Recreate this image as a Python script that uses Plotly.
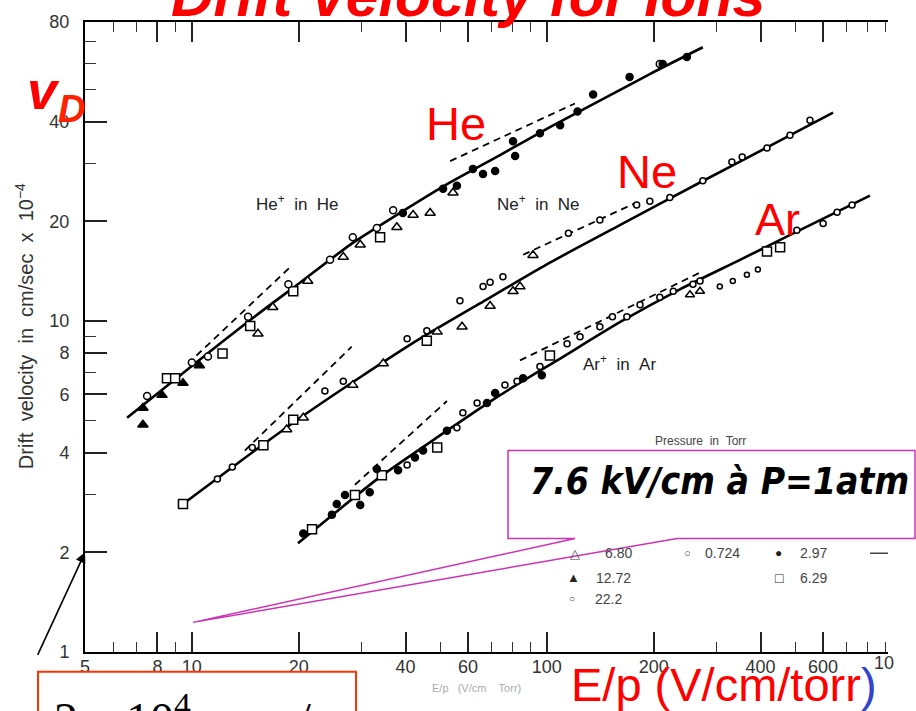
import math
import plotly.graph_objects as go

# ---------------- data (E/p in V/cm/torr, drift velocity in cm/s x 1e-4) ----------------
# fitted curves
he_curve_x = [6.57, 9.88, 14.6, 20.2, 27.9, 38.6, 53.4, 73.8, 102, 141, 195, 275]
he_curve_y = [5.10, 7.24, 10.07, 13.07, 16.98, 21.2, 26.2, 31.7, 38.5, 46.3, 55.7, 67.1]
ne_curve_x = [9.44, 13.7, 20.2, 29.8, 43.9, 64.8, 102, 161, 270, 425, 640]
ne_curve_y = [2.80, 3.77, 5.10, 6.76, 8.84, 11.3, 15.0, 19.5, 26.2, 33.8, 42.6]
ar_curve_x = [19.9, 33.9, 50, 73.8, 109, 161, 237, 350, 516, 813]
ar_curve_y = [2.13, 3.38, 4.51, 5.97, 7.70, 9.93, 12.46, 15.3, 18.8, 23.9]

# dashed asymptotes (low field / high field)
he_low_x, he_low_y = [10.3, 19.0], [7.86, 14.6]
he_high_x, he_high_y = [53.4, 120], [30.4, 45.4]
ne_low_x, ne_low_y = [14.1, 28.2], [4.06, 8.36]
ne_high_x, ne_high_y = [85.7, 179], [15.85, 22.8]
ar_low_x, ar_low_y = [28.8, 52.3], [3.20, 5.73]
ar_high_x, ar_high_y = [84, 270], [7.60, 14.0]

# He+ in He measurements by pressure (torr)
he_p0724_x = [7.48, 10.0, 11.1, 14.4, 18.7, 24.5, 28.4, 33.2, 36.9, 208]
he_p0724_y = [5.93, 7.49, 7.81, 10.3, 12.9, 15.3, 17.9, 19.1, 21.6, 59.7]
he_p297_x = [39.3, 51.0, 55.8, 61.9, 66.1, 71.5, 81.4, 80.3, 95.6, 109, 122, 135, 171, 212, 248]
he_p297_y = [21.2, 25.1, 25.6, 28.8, 27.8, 28.4, 31.5, 34.9, 36.9, 39.0, 42.9, 48.3, 54.6, 59.7, 62.7]
he_p629_x = [8.51, 8.97, 12.2, 14.6, 19.3, 33.9]
he_p629_y = [6.71, 6.71, 7.97, 9.66, 12.3, 17.9]
he_p680_x = [15.35, 16.9, 21.2, 26.7, 29.8, 37.8, 42.0, 46.9, 54.4]
he_p680_y = [9.15, 11.0, 13.2, 15.6, 17.0, 19.2, 20.9, 21.2, 24.4]
he_p1272_x = [7.28, 7.28, 8.24, 9.44, 10.5]
he_p1272_y = [4.86, 5.46, 5.97, 6.49, 7.34]

# Ne+ in Ne
ne_p629_x = [9.44, 15.9, 19.3, 45.9]
ne_p629_y = [2.80, 4.21, 5.03, 8.72]
ne_p0724_x = [11.8, 13.0, 14.8, 23.7, 26.7, 40.4, 45.9, 56.9, 66.1, 69.2, 75.2, 115, 141, 179, 195, 222, 275, 332, 355, 417, 484, 551]
ne_p0724_y = [3.33, 3.62, 4.15, 6.14, 6.58, 8.84, 9.34, 11.5, 12.7, 13.1, 13.6, 18.4, 20.2, 22.4, 23.0, 23.6, 26.5, 30.2, 31.3, 33.3, 36.4, 40.4]
ne_p680_x = [18.5, 20.6, 28.4, 34.6, 49.1, 57.7, 69.2, 80.3, 84.0, 91.4]
ne_p680_y = [4.70, 5.10, 6.40, 7.44, 9.27, 9.60, 11.1, 12.3, 12.7, 15.8]

# Ar+ in Ar
ar_p297_x = [20.6, 24.8, 25.6, 27.0, 29.8, 31.7, 33.2, 38.1, 42.5, 44.8, 52.3, 67.8, 71.5, 85.7, 96.8]
ar_p297_y = [2.28, 2.60, 2.80, 2.98, 2.78, 3.04, 3.57, 3.54, 3.87, 4.06, 4.66, 5.65, 6.06, 6.71, 6.85]
ar_p629_x = [21.8, 28.8, 34.3, 49.1, 102, 417, 454]
ar_p629_y = [2.35, 2.98, 3.42, 4.15, 7.86, 16.2, 16.7]
ar_p0724_x = [40.4, 55.8, 58.0, 63.6, 76.2, 82.4, 95.6, 114, 124, 141, 153, 168, 183, 208, 227, 258, 270, 506, 600, 657, 724]
ar_p0724_y = [3.67, 4.76, 5.28, 5.65, 6.40, 6.58, 7.29, 8.54, 8.96, 9.60, 10.3, 10.3, 11.2, 11.8, 12.3, 12.9, 13.2, 18.8, 19.7, 21.3, 22.4]
ar_p222_x = [307, 334, 366, 393]
ar_p222_y = [12.7, 13.2, 13.8, 14.3]
ar_p680_x = [253, 270]
ar_p680_y = [12.0, 12.3]

# axis ticks
x_major = [5, 8, 10, 20, 40, 60, 100, 200, 400, 600]
x_minor = [6, 7, 9, 30, 50, 70, 80, 90, 300, 500, 700, 800, 900]
y_major = [1, 2, 4, 6, 8, 10, 20, 40, 80]
y_minor = [3, 5, 7, 9, 30, 50, 60, 70]
y_right_major = [10, 20, 40]
y_right_minor = [5, 6, 7, 8, 9, 30, 50, 60, 70]

legend_labels = ["6.80", "0.724", "2.97", "12.72", "6.29", "22.2"]

# ---------------- layout geometry (pixels) ----------------
W, H = 916, 711
L, R, T, B = 85, 888, 14, 652


def px(x):
    return (x - L) / (R - L)


def py(y):
    return (B - y) / (B - T)


fig = go.Figure()


def curve(x, y, dash=None, width=2.6):
    fig.add_trace(go.Scatter(
        x=x, y=y, mode="lines", hoverinfo="skip", showlegend=False,
        line=dict(color="black", width=width, dash=dash, shape="spline", smoothing=0.6)))


def marks(x, y, symbol, size, fill="white", lw=1.5):
    fig.add_trace(go.Scatter(
        x=x, y=y, mode="markers", showlegend=False,
        marker=dict(symbol=symbol, size=size, color=fill,
                    line=dict(color="black", width=lw))))


for cx, cy in [(he_curve_x, he_curve_y), (ne_curve_x, ne_curve_y), (ar_curve_x, ar_curve_y)]:
    curve(cx, cy)
for dx, dy in [(he_low_x, he_low_y), (he_high_x, he_high_y), (ne_low_x, ne_low_y),
               (ne_high_x, ne_high_y), (ar_low_x, ar_low_y), (ar_high_x, ar_high_y)]:
    curve(dx, dy, dash="7px,5px", width=1.8)

# markers
marks(he_p629_x, he_p629_y, "square", 9)
marks(he_p680_x, he_p680_y, "triangle-up", 9)
marks(he_p0724_x, he_p0724_y, "circle", 7)
marks(he_p1272_x, he_p1272_y, "triangle-up", 9, fill="black")
marks(he_p297_x, he_p297_y, "circle", 7, fill="black")

marks(ne_p629_x, ne_p629_y, "square", 9)
marks(ne_p680_x, ne_p680_y, "triangle-up", 9)
marks(ne_p0724_x, ne_p0724_y, "circle", 6)

marks(ar_p629_x, ar_p629_y, "square", 9)
marks(ar_p680_x, ar_p680_y, "triangle-up", 8)
marks(ar_p0724_x, ar_p0724_y, "circle", 6)
marks(ar_p222_x, ar_p222_y, "circle", 5)
marks(ar_p297_x, ar_p297_y, "circle", 7, fill="black")

TICKFONT = dict(family="Liberation Sans, Arial", size=18, color="#333")

fig.update_layout(
    width=W, height=H,
    margin=dict(l=L, r=W - R, t=T, b=H - B, pad=0),
    paper_bgcolor="white", plot_bgcolor="white",
    showlegend=False,
    xaxis=dict(
        type="log", range=[math.log10(5), math.log10(914)],
        tickmode="array", tickvals=x_major, ticktext=[str(v) for v in x_major],
        ticks="inside", ticklen=20, tickwidth=1.5, tickcolor="#222",
        minor=dict(tickmode="array", tickvals=x_minor, ticks="inside", ticklen=10,
                   tickwidth=1.3, tickcolor="#333", showgrid=False),
        showline=True, linecolor="black", linewidth=2, mirror="ticks",
        showgrid=False, zeroline=False, tickfont=TICKFONT, ticklabelstandoff=-3,
    ),
    yaxis=dict(
        type="log", range=[0, math.log10(80)],
        tickmode="array", tickvals=y_major, ticktext=[str(v) for v in y_major],
        ticks="inside", ticklen=22, tickwidth=1.5, tickcolor="#222",
        minor=dict(tickmode="array", tickvals=y_minor, ticks="inside", ticklen=11,
                   tickwidth=1.3, tickcolor="#333", showgrid=False),
        showline=True, linecolor="black", linewidth=2, mirror=False,
        showgrid=False, zeroline=False, tickfont=TICKFONT, ticklabelstandoff=10,
    ),
    yaxis2=dict(
        type="log", range=[0, math.log10(80)], overlaying="y", side="right",
        tickmode="array", tickvals=y_right_major, showticklabels=False,
        ticks="inside", ticklen=20, tickwidth=1.5, tickcolor="#444",
        minor=dict(tickmode="array", tickvals=y_right_minor, ticks="inside", ticklen=10,
                   tickwidth=1.3, tickcolor="#555", showgrid=False),
        showline=True, linecolor="#d8d8d8", linewidth=1, showgrid=False, zeroline=False,
    ),
)


def txt(x, y, s, size, color="#222", family="Liberation Sans, Arial",
        xanchor="center", yanchor="middle", **kw):
    fig.add_annotation(x=px(x), y=py(y), xref="paper", yref="paper", text=s,
                       showarrow=False, xanchor=xanchor, yanchor=yanchor,
                       font=dict(size=size, color=color, family=family), **kw)


# red overlay labels
txt(468, -12, "<b><i>Drift Velocity for Ions</i></b>", 59, color="#ff0000")
txt(43, 83, "<b><i>v</i></b>", 54, color="#ff0000")
txt(71, 102, "<b><i>D</i></b>", 38, color="#ff2200")
txt(456, 117, "He", 47, color="#ff0000")
txt(647, 165, "Ne", 47, color="#ff0000")
txt(777, 214, "Ar", 45, color="#ff0000")

# original figure texts
txt(297, 197, "He<sup>+</sup>&nbsp;&nbsp;in&nbsp;&nbsp;He", 17)
txt(538, 197, "Ne<sup>+</sup>&nbsp;&nbsp;in&nbsp;&nbsp;Ne", 17)
txt(619, 359, "Ar<sup>+</sup>&nbsp;&nbsp;in&nbsp;&nbsp;Ar", 17)
txt(700, 438, "Pressure&nbsp;&nbsp;in&nbsp;&nbsp;Torr", 12, color="#444")
txt(24, 322, "Drift&nbsp;&nbsp;velocity&nbsp;&nbsp;in&nbsp;&nbsp;cm/sec&nbsp;&nbsp;x&nbsp;&nbsp;10<sup>−4</sup>",
    20, color="#333", textangle=-90)
txt(476, 688, "E/p&nbsp;&nbsp;&nbsp;(V/cm&nbsp;&nbsp;&nbsp;&nbsp;Torr)", 11, color="#aaa")
txt(872, 663, "10", 18, color="#333", xanchor="left")

# pressure legend
LEG = "#444"
txt(575, 552, "△", 13, color=LEG)
txt(618, 552, legend_labels[0], 14, color=LEG)
txt(687, 552, "○", 11, color=LEG)
txt(722, 552, legend_labels[1], 14, color=LEG)
txt(778, 552, "●", 12, color="#222")
txt(813, 552, legend_labels[2], 14, color=LEG)
txt(573, 577, "▲", 13, color="#222")
txt(613, 577, legend_labels[3], 14, color=LEG)
txt(779, 577, "□", 14, color="#222")
txt(813, 577, legend_labels[4], 14, color=LEG)
txt(572, 598, "○", 10, color=LEG)
txt(608, 598, legend_labels[5], 14, color=LEG)

shapes = []
shapes.append(dict(type="line", xref="paper", yref="paper", x0=px(870), x1=px(888),
                   y0=py(552), y1=py(552), line=dict(color="#444", width=1.5)))

# callout box
path = "M {a},{b} L {c},{b} L {c},{d} L {e},{d} L {f},{g} L {h},{d} L {a},{d} Z".format(
    a=px(508), b=py(448), c=px(915), d=py(537), e=px(677), f=px(193), g=py(622), h=px(575))
shapes.append(dict(type="path", xref="paper", yref="paper", path=path,
                   fillcolor="white", line=dict(color="#cc33b3", width=1.5), layer="above"))
# red box bottom-left
shapes.append(dict(type="rect", xref="paper", yref="paper", x0=px(38), x1=px(356),
                   y0=py(672), y1=py(730), fillcolor="white",
                   line=dict(color="#ff3300", width=2), layer="above"))
fig.update_layout(shapes=shapes)

txt(719, 479, "<b><i>7.6 kV/cm à P=1atm</i></b>", 37, color="black",
    family="DejaVu Sans Condensed, DejaVu Sans")
txt(52, 684, "2 x 10<sup>4</sup>&nbsp;&nbsp;&nbsp;&nbsp;cm/s", 48, color="black",
    family="Liberation Serif, Times New Roman", xanchor="left", yanchor="top")
txt(724, 685, "E/p (V/cm/torr<span style='color:#3344cc'>)</span>", 47, color="#ff0000")

# arrow to v = 2
fig.add_annotation(x=0, y=math.log10(2), xref="paper", yref="y", text="",
                   showarrow=True, ax=-48, ay=104, arrowhead=2, arrowsize=1.3,
                   arrowwidth=1.6, arrowcolor="black", standoff=0)

fig.write_html("out.html", config={"displayModeBar": False},
               post_script="document.body.style.margin='0';")
